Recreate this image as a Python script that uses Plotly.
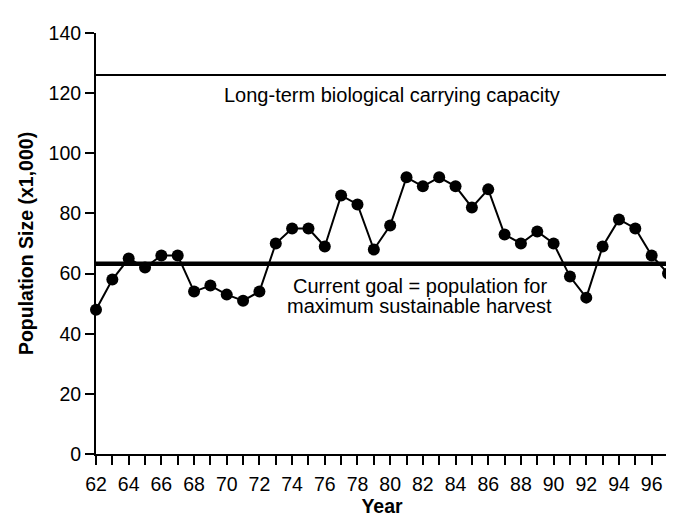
import plotly.graph_objects as go

years = list(range(62, 98))
population = [48, 58, 65, 62, 66, 66, 54, 56, 53, 51, 54, 70, 75, 75, 69, 86, 83, 68,
              76, 92, 89, 92, 89, 82, 88, 73, 70, 74, 70, 59, 52, 69, 78, 75, 66, 60]
carrying_capacity = 126
goal = 63.3
line_years = [62, 97]

x_tickvals = list(range(62, 98))
x_ticktext = [str(y) if (y % 2 == 0) else "" for y in x_tickvals]
y_tickvals = [0, 20, 40, 60, 80, 100, 120, 140]

FONT = "Liberation Sans, Arial, Helvetica, sans-serif"

fig = go.Figure()

fig.add_trace(go.Scatter(
    x=line_years, y=[carrying_capacity] * 2, mode="lines",
    line=dict(color="black", width=2), hoverinfo="skip", showlegend=False))

fig.add_trace(go.Scatter(
    x=line_years, y=[goal] * 2, mode="lines",
    line=dict(color="black", width=4.5), hoverinfo="skip", showlegend=False))

fig.add_trace(go.Scatter(
    x=years, y=population, mode="lines+markers",
    line=dict(color="black", width=2),
    marker=dict(color="black", size=12),
    cliponaxis=False, showlegend=False))

fig.add_annotation(x=80.1, y=119.4, xref="x", yref="y", showarrow=False,
                   text="Long-term biological carrying capacity",
                   font=dict(family=FONT, size=20, color="black"))
fig.add_annotation(x=81.8, y=55.9, xref="x", yref="y", showarrow=False,
                   text="Current goal = population for",
                   font=dict(family=FONT, size=20, color="black"))
fig.add_annotation(x=81.8, y=49.3, xref="x", yref="y", showarrow=False,
                   text="maximum sustainable harvest",
                   font=dict(family=FONT, size=20, color="black"))

fig.update_layout(
    width=674, height=518,
    margin=dict(l=88, r=14, t=25, b=65),
    paper_bgcolor="white", plot_bgcolor="white",
    font=dict(family=FONT, size=19.5, color="black"),
    xaxis=dict(
        range=[62, 97], tickmode="array", tickvals=x_tickvals, ticktext=x_ticktext,
        ticks="outside", ticklen=9, tickwidth=1.5, tickcolor="black",
        showline=True, linecolor="black", linewidth=2,
        showgrid=False, zeroline=False, ticklabelstandoff=3,
        title=dict(text="<b>Year</b>", font=dict(size=19.5), standoff=5),
    ),
    yaxis=dict(
        range=[0, 140], tickmode="array", tickvals=y_tickvals,
        ticks="outside", ticklen=9, tickwidth=1.5, tickcolor="black",
        showline=True, linecolor="black", linewidth=2,
        showgrid=False, zeroline=False,
        title=dict(text="<b>Population Size (x1,000)</b>", font=dict(size=19.5), standoff=10),
    ),
)

fig.write_html("out.html")
